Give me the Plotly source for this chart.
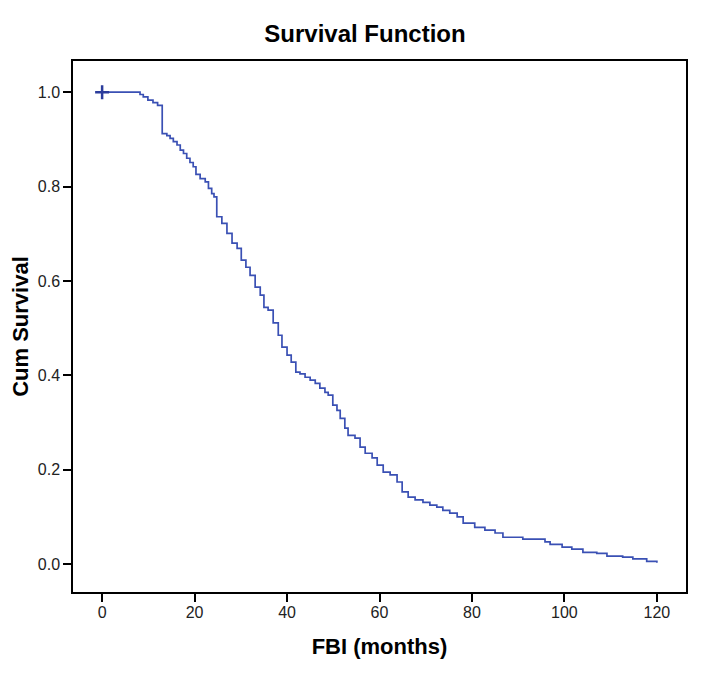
import plotly.graph_objects as go

# Kaplan-Meier step data (months, cumulative survival)
times = [0, 8.2, 8.9, 9.9, 11.0, 12.0,
         13.0, 14.0, 14.7, 15.4, 16.2, 16.9, 17.6, 18.3, 19.0, 19.7,
         20.3, 21.2, 22.3, 23.0, 23.7, 24.2, 24.8,
         25.9, 27.0, 28.1, 29.2, 30.1, 31.1, 32.0, 33.1, 34.2, 35.0,
         35.9, 37.0, 38.1, 38.9, 40.0, 40.9, 41.9, 42.8, 43.9, 45.0,
         46.1, 47.1, 48.2, 48.9, 49.9, 50.8, 51.5, 52.5, 53.2, 54.7,
         55.8, 56.9, 58.4, 59.5, 60.8, 62.3, 63.8, 64.9, 66.2, 67.7,
         69.4, 70.9, 72.4, 73.7, 75.2, 76.8, 78.1, 80.6, 82.8, 85.0,
         86.7, 91.0, 95.8, 96.9, 99.5, 101.6, 104.0, 107.0, 109.2, 112.6,
         114.8, 117.8, 120.0]
surv = [1.0, 0.995, 0.990, 0.983, 0.978, 0.972,
        0.912, 0.908, 0.902, 0.895, 0.888, 0.877, 0.870, 0.860, 0.851, 0.842,
        0.826, 0.817, 0.810, 0.796, 0.785, 0.778, 0.736,
        0.722, 0.701, 0.680, 0.669, 0.644, 0.629, 0.612, 0.587, 0.570, 0.544,
        0.538, 0.511, 0.485, 0.460, 0.443, 0.428, 0.407, 0.403, 0.396, 0.390,
        0.383, 0.373, 0.364, 0.358, 0.337, 0.326, 0.309, 0.288, 0.273, 0.267,
        0.248, 0.235, 0.225, 0.210, 0.195, 0.189, 0.174, 0.153, 0.142, 0.136,
        0.131, 0.125, 0.121, 0.114, 0.108, 0.100, 0.087, 0.078, 0.072, 0.066,
        0.057, 0.053, 0.047, 0.042, 0.036, 0.032, 0.025, 0.023, 0.017, 0.015,
        0.011, 0.006, 0.003]
censor_t = [0]
censor_s = [1.0]

x_ticks = [0, 20, 40, 60, 80, 100, 120]
y_ticks = [0.0, 0.2, 0.4, 0.6, 0.8, 1.0]

fig = go.Figure()
fig.add_trace(go.Scatter(x=times, y=surv, mode="lines", line_shape="hv",
                         line=dict(color="#3a50b4", width=1.7),
                         showlegend=False, hoverinfo="skip"))
fig.add_trace(go.Scatter(x=censor_t, y=censor_s, mode="markers",
                         marker=dict(symbol="cross-thin", size=10,
                                     line=dict(color="#2b3c9c", width=2.5)),
                         showlegend=False))

font = "Liberation Sans, Arial, sans-serif"
fig.update_layout(
    width=714, height=675,
    paper_bgcolor="white", plot_bgcolor="white",
    margin=dict(l=65, r=36, t=53, b=91),
    title=dict(text="<b>Survival Function</b>", x=0.5, xanchor="center",
               y=1 - 26 / 675, yanchor="middle",
               font=dict(family=font, size=24, color="black")),
    font=dict(family=font, color="#222222"),
)
fig.update_xaxes(range=[-6.3, 126.3], tickvals=x_ticks,
                 ticktext=[str(v) for v in x_ticks],
                 showgrid=False, zeroline=False, automargin=False,
                 showline=True, linecolor="black", linewidth=1.5, mirror=True,
                 ticks="outside", ticklen=8, tickwidth=1.5, tickcolor="black",
                 ticklabelstandoff=-3,
                 tickfont=dict(family=font, size=16, color="#222222"),
                 title=dict(text="<b>FBI (months)</b>", standoff=19,
                            font=dict(family=font, size=22, color="black")))
fig.update_yaxes(range=[-0.059, 1.066], tickvals=y_ticks,
                 ticktext=[f"{v:.1f}" for v in y_ticks],
                 showgrid=False, zeroline=False, automargin=False,
                 showline=True, linecolor="black", linewidth=1.5, mirror=True,
                 ticks="outside", ticklen=8, tickwidth=1.5, tickcolor="black",
                 tickfont=dict(family=font, size=16, color="#222222"),
                 title=dict(text="<b>Cum Survival</b>", standoff=6,
                            font=dict(family=font, size=22, color="black")))

fig.write_html("out.html")
